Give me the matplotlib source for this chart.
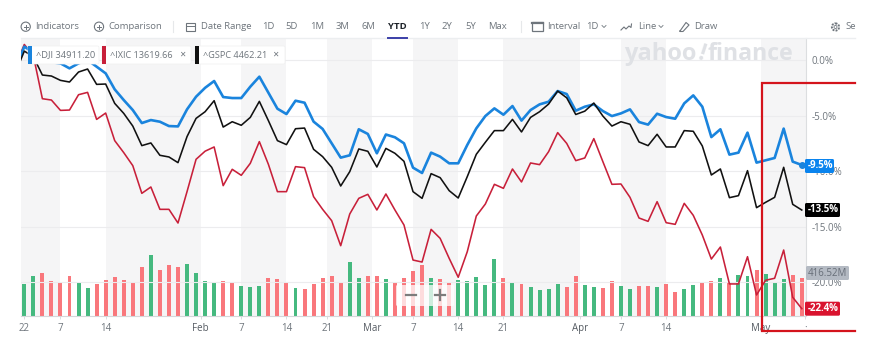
"""
Yahoo Finance YTD comparison chart: DJI, IXIC and GSPC with volume bars.
"""

import matplotlib
matplotlib.use("Agg")
import numpy as np
import matplotlib.pyplot as plt
from matplotlib.patches import Circle, FancyBboxPatch, Rectangle

plt.rcParams['font.family'] = ['Open Sans', 'DejaVu Sans']

# percent change, first entry is the close before the first session
dji = [-0.8, 1.2, 0.7, 0.1, -0.2, -0.3, -0.75, -0.3, 0.0, -0.6, -1.2, -2.64, -3.6, -4.5, -5.67, -5.4, -5.55,
       -5.94, -5.97, -4.44, -3.3, -2.5, -1.89, -3.33, -3.42, -3.42, -2.4, -1.5, -2.94, -4.38, -4.86, -3.66,
       -3.84, -5.54, -6.2, -7.49, -8.78, -8.57, -6.23, -6.65, -8.39, -6.7, -6.95, -7.49, -9.68, -10.16, -8.33,
       -8.69, -9.29, -9.29, -7.64, -6.15, -5.04, -4.35, -4.92, -4.14, -5.45, -4.5, -3.99, -3.75, -2.79, -3.06,
       -4.56, -4.2, -3.99, -4.59, -5.04, -4.8, -4.44, -5.58, -5.81, -4.83, -5.13, -5.28, -3.9, -3.18, -4.2,
       -6.93, -6.23, -8.51, -8.33, -6.53, -9.23, -9.02, -8.81, -6.17, -9.14, -9.44]
ixic = [-0.6, 1.4, 0.4, -3.48, -3.6, -4.53, -4.5, -3.12, -2.91, -5.34, -4.77, -7.25, -8.33, -9.5, -11.99, -11.42,
        -13.43, -13.43, -14.66, -11.84, -8.93, -8.2, -7.82, -11.3, -9.83, -10.37, -9.29, -7.34, -9.38, -11.84,
        -11.84, -9.59, -9.68, -12.29, -13.43, -14.45, -16.7, -13.85, -12.44, -12.08, -13.49, -12.05, -13.49,
        -14.84, -17.99, -18.17, -15.23, -16.04, -17.84, -19.54, -17.24, -14.03, -12.95, -11.18, -11.54, -9.8,
        -10.97, -9.26, -9.41, -8.24, -6.53, -7.5, -9.05, -8.81, -7.07, -9.14, -11.18, -11.15, -12.35, -14.21,
        -14.51, -12.74, -14.63, -14.78, -12.89, -13.97, -15.74, -17.9, -16.82, -20.14, -20.14, -17.69, -21.13,
        -19.81, -19.63, -17.09, -21.34, -22.36]
gspc = [-1.2, 0.8, 0.3, -1.35, -1.44, -1.83, -1.98, -1.08, -0.81, -2.19, -2.16, -3.9, -4.8, -5.94, -7.7, -7.46,
        -8.57, -8.72, -9.23, -6.89, -5.25, -4.65, -3.66, -6.03, -5.55, -5.87, -5.16, -3.72, -5.45, -7.25, -7.61,
        -6.18, -6.12, -8.03, -8.69, -9.65, -11.33, -10.04, -8.0, -8.21, -9.62, -7.95, -8.39, -9.11, -11.84,
        -12.44, -10.22, -10.58, -11.75, -12.41, -10.49, -8.48, -7.4, -6.35, -6.35, -5.34, -6.47, -5.16, -4.65,
        -3.96, -2.79, -3.4, -4.9, -4.6, -3.87, -5.04, -5.94, -5.55, -5.78, -7.37, -7.7, -6.68, -7.82, -7.82,
        -6.35, -6.41, -7.73, -10.34, -9.8, -12.38, -12.2, -9.95, -13.28, -12.8, -12.35, -9.65, -12.98, -13.49]

# volume in millions, and whether the session closed up
volume = [345, 431, 463, 384, 355, 431, 355, 305, 345, 391, 424, 391, 370, 528, 661, 503, 549, 528, 567, 470,
          384, 363, 377, 355, 327, 320, 327, 409, 398, 370, 305, 291, 345, 416, 431, 370, 589, 416, 438, 438,
          398, 370, 409, 488, 549, 416, 398, 366, 391, 384, 424, 337, 614, 409, 366, 345, 320, 284, 294, 352,
          312, 431, 337, 312, 305, 384, 323, 294, 327, 327, 312, 352, 266, 294, 337, 366, 377, 416, 366, 445,
          438, 503, 452, 363, 406, 445, 416.52]
up = [1, 1, 0, 0, 0, 0, 1, 1, 0, 0, 0, 0, 0, 0, 1, 0, 0, 0, 1, 1,
      1, 1, 0, 0, 1, 1, 1, 0, 0, 0, 1, 0, 0, 0, 0, 0, 1, 1, 0, 0,
      1, 0, 0, 0, 0, 1, 0, 0, 1, 1, 1, 1, 1, 0, 1, 0, 1, 1, 1, 1,
      0, 0, 1, 1, 0, 0, 1, 1, 0, 0, 1, 0, 0, 1, 1, 0, 0, 1, 0, 1,
      1, 0, 1, 1, 1, 0, 0]

tick_pos = [0, 4, 9, 19.5, 24, 29, 33.5, 38.5, 43, 48, 53, 61.5, 66, 71, 81.5, 86.4]
tick_labels = ['22', '7', '14', 'Feb', '7', '14', '21', 'Mar', '7', '14', '21', 'Apr', '7', '14', 'May', '·']
pct_ticks = [0, -5, -10, -15, -20]

GREY = '#6e757c'
W, H = 877, 355
L, R, T, B = 21, 806, 38, 316.3
XLIM = (-0.365, 86.47)

fig = plt.figure(figsize=(W / 100, H / 100), dpi=100)
rect = [L / W, (H - B) / H, (R - L) / W, (B - T) / H]

# volume goes underneath, with the week bands
vol_ax = fig.add_axes(rect)
vol_ax.set_xlim(*XLIM)
vol_ax.set_ylim(0, 2995)
bands = [(XLIM[0], 4), (9, 19.5), (24, 29), (33.5, 38.5), (43, 48), (53, 61.5), (66, 71), (81.5, XLIM[1])]
for a, b in bands:
    vol_ax.axvspan(a, b, color='#f5f5f6', lw=0, zorder=0)
bar_colors = ['#45b97f' if u else '#f9777c' for u in up]
vol_ax.bar(np.arange(len(volume)), volume, width=0.44, color=bar_colors, zorder=2)
vol_ax.set_yticks([])
vol_ax.set_xticks(tick_pos)
vol_ax.set_xticklabels(tick_labels, fontsize=7, color=GREY)
for lab in vol_ax.get_xticklabels():
    if lab.get_text() in ('Feb', 'Mar', 'Apr', 'May'):
        lab.set_color('#555b62')
vol_ax.tick_params(axis='x', length=2, width=0.6, color='#d5d7da', pad=3)
for side in ('top', 'left', 'right'):
    vol_ax.spines[side].set_visible(False)
vol_ax.spines['bottom'].set_color('#d5d7da')

# percent lines
ax = fig.add_axes(rect, sharex=vol_ax)
ax.patch.set_alpha(0)
ax.set_ylim(-23.05, 1.98)
for tick in pct_ticks:
    ax.axhline(tick, color='#ececee', lw=0.8, zorder=1)
days = np.arange(-1, len(dji) - 1)
ax.plot(days, ixic, color='#c8203a', lw=1.15, zorder=3)
ax.plot(days, dji, color='#1a84dd', lw=1.9, zorder=3)
ax.plot(days, gspc, color='#111111', lw=1.15, zorder=4)
ax.plot(days[-1], dji[-1], 'o', color='#1a84dd', ms=4, zorder=5, clip_on=False)
ax.yaxis.tick_right()
ax.set_yticks(pct_ticks)
ax.set_yticklabels([f'{t:.1f}%' for t in pct_ticks], fontsize=7, color=GREY)
ax.tick_params(axis='y', length=0, pad=4)
ax.tick_params(axis='x', length=0, labelbottom=False)
for side in ('top', 'left', 'bottom'):
    ax.spines[side].set_visible(False)
ax.spines['right'].set_color('#dcdee0')

# everything else is page furniture, laid out in screen pixels
page = fig.add_axes([0, 0, 1, 1], zorder=10)
page.set_xlim(0, W)
page.set_ylim(H, 0)
page.axis('off')


def label(x, y, s, size=6.8, color=GREY, weight='normal', ha='left', zorder=12, rotation=0):
    page.text(x, y, s, fontsize=size, color=color, fontweight=weight, ha=ha, va='center',
              zorder=zorder, rotation=rotation)


def chip(x0, x1, y0, y1, color, alpha=1.0, zorder=11, ec='none'):
    page.add_patch(FancyBboxPatch((x0 + 1, y0 + 1), x1 - x0 - 2, y1 - y0 - 2,
                                  boxstyle='round,pad=1,rounding_size=1.5', fc=color, ec=ec,
                                  lw=0.5, alpha=alpha, zorder=zorder))


def plus_icon(x, y):
    page.add_patch(Circle((x, y), 4.6, fc='none', ec=GREY, lw=0.8))
    page.plot([x - 2, x + 2], [y, y], color=GREY, lw=0.7)
    page.plot([x, x], [y - 2, y + 2], color=GREY, lw=0.7)


# toolbar
page.plot([21, 855], [38, 38], color='#eceef0', lw=1)
plus_icon(25.7, 26.7)
label(35, 26.5, 'Indicators')
plus_icon(99, 26.7)
label(108.5, 26.5, 'Comparison')
for x in (173, 520.7):
    page.plot([x, x], [21, 32], color='#e6e8ea', lw=0.8)
page.add_patch(Rectangle((185.5, 22.5), 9.5, 8.5, fc='none', ec=GREY, lw=0.8))
page.plot([185.5, 195], [25.5, 25.5], color=GREY, lw=0.7)
label(201, 26.5, 'Date Range')
for x, s in [(262, '1D'), (285.5, '5D'), (310, '1M'), (336, '3M'), (362, '6M'), (418.7, '1Y'),
             (441.7, '2Y'), (465, '5Y'), (488.5, 'Max'), (547.3, 'Interval'), (586, '1D'),
             (637.7, 'Line'), (694, 'Draw'), (845, 'Se')]:
    label(x, 26.5, s)
label(388, 26.5, 'YTD', color='#1d2228', weight='bold')
page.plot([388, 407], [37.7, 37.7], color='#3b3fa8', lw=1.4)
page.add_patch(Rectangle((532, 22), 11, 9, fc='none', ec=GREY, lw=0.9))
page.plot([532, 543], [22.5, 22.5], color=GREY, lw=1.6)
for x in (604, 661):
    page.plot([x - 2, x, x + 2], [25.5, 27.5, 25.5], color=GREY, lw=0.6)
page.plot([621, 624, 626, 629, 631, 631.5], [30, 27, 29, 26, 27.5, 24], color=GREY, lw=0.8)
page.plot([680, 686, 689, 683, 680, 680], [31, 22.5, 25, 31.5, 31.5, 31], color=GREY, lw=0.8)
page.add_patch(Circle((835.5, 27), 3.6, fc='none', ec=GREY, lw=1.4, ls=(0, (1, 0.6))))
page.add_patch(Circle((835.5, 27), 1.5, fc='none', ec=GREY, lw=0.6))

# watermark
label(624, 54.5, 'yahoo', size=17, color='#dfe1e5', weight='bold')
label(695, 54.5, '!', size=17, color='#dfe1e5', weight='bold', rotation=-18)
label(707, 54.5, 'finance', size=16.7, color='#dfe1e5', weight='bold')

# series chips
for x0, x1, col in [(28, 99, '#1a84dd'), (102, 191, '#c8203a'), (195, 285, '#111111')]:
    chip(x0, x1, 46, 64, '#ffffff', ec='#f0f0f0')
    page.add_patch(Rectangle((x0, 46), 3.5, 18, fc=col, ec='none', zorder=12))
label(35.5, 55, '^DJI 34911.20', size=6.7)
label(110, 55, '^IXIC 13619.66', size=6.6)
label(203, 55, '^GSPC 4462.21', size=6.6)
label(182, 55, '✕', size=5.5, ha='center')
label(275, 55, '✕', size=5.5, ha='center')

# zoom control
chip(396, 454, 285, 306, '#ffffff', alpha=0.75, zorder=9)
page.plot([405.5, 415.5], [295, 295], color='#7c7c7c', lw=1.6, zorder=10)
page.plot([435, 445], [295, 295], color='#7c7c7c', lw=1.6, zorder=10)
page.plot([440, 440], [290, 300], color='#7c7c7c', lw=1.6, zorder=10)

# last value tags
for y, s, col in [(166, '-9.5%', '#0a84ee'), (210, '-13.5%', '#000000'), (308.7, '-22.4%', '#d9132e')]:
    chip(805, 840 if len(s) > 5 else 834, y - 7, y + 7, col)
    label(807.5, y, s, size=7, color='#ffffff', weight='bold')
chip(806, 849, 266, 280, '#b4bac3')
label(808, 273, '416.52M', size=7, color='#676e78')

# red annotation box, open on the right
page.plot([855, 762, 762, 855], [82.7, 82.7, 331, 331], color='#d4141c', lw=1.6, zorder=13,
          solid_joinstyle='miter')

plt.savefig('out.png', dpi=100)
